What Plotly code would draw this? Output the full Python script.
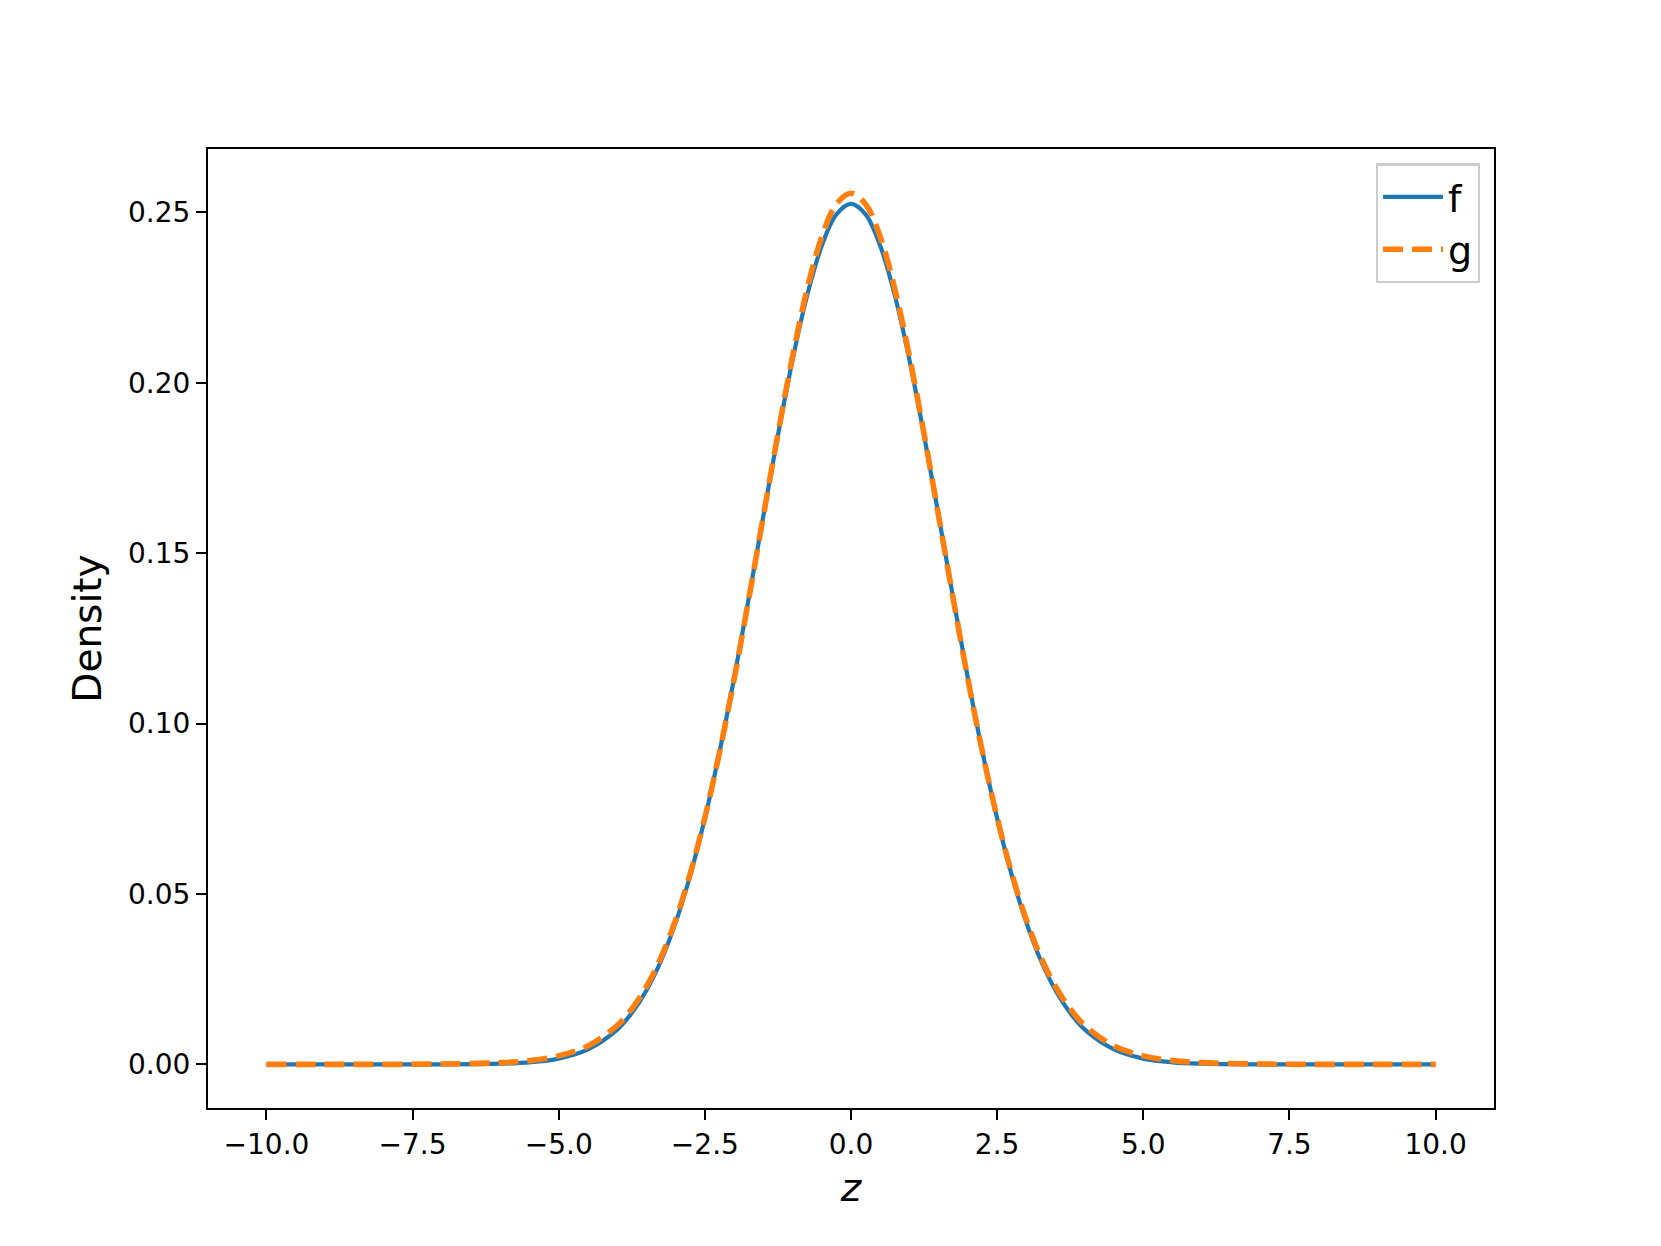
import plotly.graph_objects as go

# values
z_vals = [-10, -9, -8, -7, -6, -5.5, -5, -4.5, -4, -3.75, -3.5, -3.25, -3, -2.75, -2.5, -2.25,
          -2, -1.75, -1.5, -1.25, -1, -0.75, -0.5, -0.25, 0, 0.25, 0.5, 0.75, 1, 1.25, 1.5, 1.75,
          2, 2.25, 2.5, 2.75, 3, 3.25, 3.5, 3.75, 4, 4.5, 5, 5.5, 6, 7, 8, 9, 10]

f_vals = [0.0, 0.0, 0.0, 0.0, 0.0002, 0.0006, 0.0017, 0.0044, 0.0102, 0.0151, 0.0217, 0.0304,
          0.0416, 0.0555, 0.0722, 0.0916, 0.1133, 0.1367, 0.1609, 0.1846, 0.2067, 0.2256, 0.2402,
          0.2494, 0.2525, 0.2494, 0.2402, 0.2256, 0.2067, 0.1846, 0.1609, 0.1367, 0.1133, 0.0916,
          0.0722, 0.0555, 0.0416, 0.0304, 0.0217, 0.0151, 0.0102, 0.0044, 0.0017, 0.0006, 0.0002,
          0.0, 0.0, 0.0, 0.0]

g_vals = [0.0, 0.0, 0.0, 0.0001, 0.0005, 0.0011, 0.0025, 0.0054, 0.0114, 0.0163, 0.0228, 0.0314,
          0.0424, 0.0560, 0.0724, 0.0915, 0.1130, 0.1365, 0.1608, 0.1850, 0.2077, 0.2275, 0.2428,
          0.2524, 0.2556, 0.2524, 0.2428, 0.2275, 0.2077, 0.1850, 0.1608, 0.1365, 0.1130, 0.0915,
          0.0724, 0.0560, 0.0424, 0.0314, 0.0228, 0.0163, 0.0114, 0.0054, 0.0025, 0.0011, 0.0005,
          0.0001, 0.0, 0.0, 0.0]

x_ticks = [-10, -7.5, -5, -2.5, 0, 2.5, 5, 7.5, 10]
x_tick_text = ["\u221210.0", "\u22127.5", "\u22125.0", "\u22122.5", "0.0", "2.5", "5.0", "7.5", "10.0"]
y_ticks = [0.0, 0.05, 0.10, 0.15, 0.20, 0.25]
y_tick_text = ["0.00", "0.05", "0.10", "0.15", "0.20", "0.25"]

font = "DejaVu Sans"

fig = go.Figure()
fig.add_trace(go.Scatter(x=z_vals, y=f_vals, name="f", mode="lines",
                         line=dict(color="#1f77b4", width=4.2, shape="spline", smoothing=1.0)))
fig.add_trace(go.Scatter(x=z_vals, y=g_vals, name="g", mode="lines",
                         line=dict(color="#ff7f0e", width=5.6, dash="20px,9px",
                                   shape="spline", smoothing=1.0)))

axis_style = dict(showline=True, linecolor="black", linewidth=2.2, mirror=True,
                  ticks="outside", ticklen=10, tickwidth=2.2, tickcolor="black",
                  showgrid=False, zeroline=False,
                  tickfont=dict(family=font, size=28, color="black"))

# page body keeps an 8px margin, so the figure is 16px smaller than the window
fig.update_layout(
    width=1645, height=1230,
    plot_bgcolor="white", paper_bgcolor="white",
    margin=dict(l=200, r=159, t=141, b=130),
    showlegend=True,
    legend=dict(x=0.989, y=0.985, xanchor="right", yanchor="top",
                bgcolor="rgba(255,255,255,0.8)", bordercolor="#cccccc", borderwidth=2.2,
                font=dict(family=font, size=38, color="black"), tracegroupgap=0,
                itemwidth=60),
    xaxis=dict(range=[-11, 11], tickvals=x_ticks, ticktext=x_tick_text,
               title=dict(text="<i>z</i>", font=dict(family=font, size=39, color="black"), standoff=14),
               **axis_style),
    yaxis=dict(range=[-0.0128, 0.2686], tickvals=y_ticks, ticktext=y_tick_text,
               title=dict(text="Density", font=dict(family=font, size=39, color="black"), standoff=14),
               **axis_style),
)

fig.write_html("out.html")
